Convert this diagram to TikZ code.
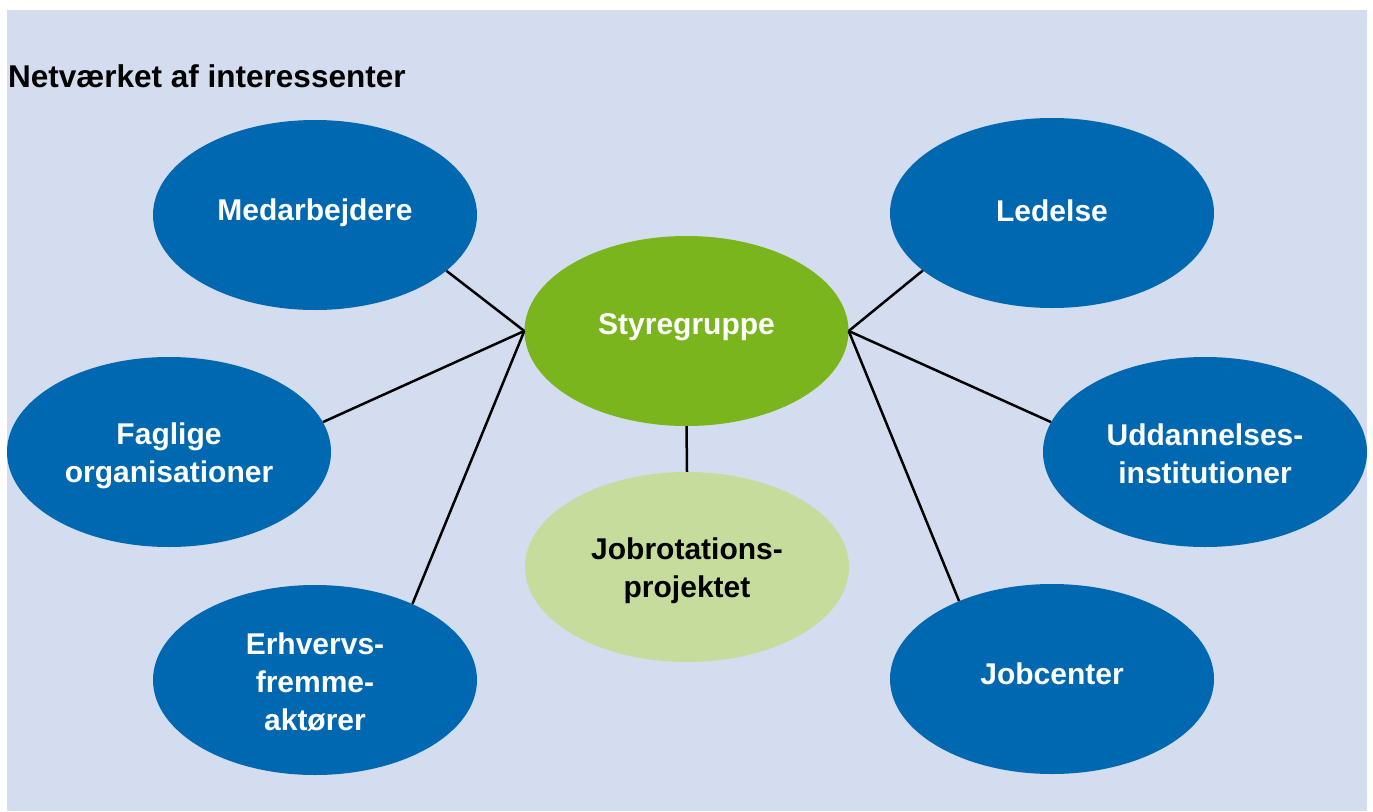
\documentclass[tikz,border=0pt]{standalone}
\usepackage{fontspec}
\setmainfont{Liberation Sans}
\usetikzlibrary{shapes.geometric}
\definecolor{panelbg}{RGB}{212,221,239}
\definecolor{stakeblue}{RGB}{0,103,177}
\definecolor{coregreen}{RGB}{122,181,29}
\definecolor{paleleaf}{RGB}{197,220,156}
\tikzset{
  bubble/.style={ellipse, minimum width=324pt, minimum height=190pt, inner sep=0pt},
  stake/.style={bubble, fill=stakeblue},
  core/.style={bubble, fill=coregreen},
  project/.style={bubble, fill=paleleaf},
  caption/.style={inner sep=0pt, align=center, text=white,
    font=\bfseries\fontsize{30}{38}\selectfont},
  link/.style={draw=black, line width=2.5pt}
}
\begin{document}
\begin{tikzpicture}[x=1pt, y=-1pt]
\useasboundingbox (0,0) rectangle (1373,811);
\fill[panelbg] (7,10) rectangle (1367,811);
\node[anchor=base west, inner sep=0pt, font=\bfseries\fontsize{31.5}{36}\selectfont] (title) at (8,87) {Netværket af interessenter};

% ellipses
\node[core] (sty) at (686.5,331) {};
\node[project] (job) at (687,567) {};
\node[stake] (med) at (315,215) {};
\node[stake] (fag) at (169,452) {};
\node[stake] (erh) at (315,680) {};
\node[stake] (led) at (1052,213) {};
\node[stake] (udd) at (1205,452) {};
\node[stake] (jc) at (1052,679) {};

% texts inside the ellipses
\node[caption] (styT) at ([yshift=4pt]sty.center) {Styregruppe};
\node[caption, text=black] (jobT) at ([yshift=-3.5pt]job.center) {Jobrotations-\\projektet};
\node[caption] (medT) at ([yshift=2pt]med.center) {Medarbejdere};
\node[caption] (fagT) at ([yshift=-4pt]fag.center) {Faglige\\organisationer};
\node[caption] (erhT) at ([yshift=-2pt]erh.center) {Erhvervs-\\fremme-\\aktører};
\node[caption] (ledT) at ([yshift=2pt]led.center) {Ledelse};
\node[caption] (uddT) at ([yshift=-2pt]udd.center) {Uddannelses-\\institutioner};
\node[caption] (jcT) at ([yshift=5pt]jc.center) {Jobcenter};

% connectors
\draw[link] (sty.west) -- (med.-23);
\draw[link] (sty.west) -- (fag.11);
\draw[link] (sty.west) -- (erh.38);
\draw[link] (sty.east) -- (led.204.5);
\draw[link] (sty.east) -- (udd.169);
\draw[link] (sty.east) -- (jc.140.4);
\draw[link] (sty.south) -- (job.north);
\end{tikzpicture}
\end{document}
